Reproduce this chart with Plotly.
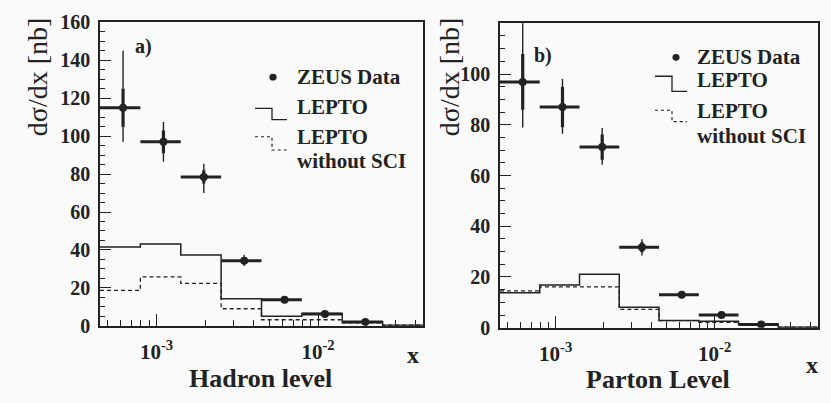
import plotly.graph_objects as go

W, H = 831, 403
INK = "#222222"
BG = "#fafafa"
SERIF = "Liberation Serif"

# x bins (equal steps in log x) and linear bin centres used for the data points
x_edges = [4.467e-4, 7.943e-4, 1.413e-3, 2.512e-3, 4.467e-3,
           7.943e-3, 1.413e-2, 2.512e-2, 4.467e-2]
x_centres = [6.205e-4, 1.104e-3, 1.962e-3, 3.490e-3, 6.205e-3, 1.104e-2, 1.962e-2]

# a) hadron level
zeus_a = [115.0, 97.0, 78.5, 34.3, 13.7, 6.2, 2.0]
stat_a = [10.0, 6.0, 3.5, 1.5, 1.0, 0.7, 0.4]
tot_a_up = [30.0, 10.5, 7.0, 3.2, 1.5, 1.0, 0.5]
tot_a_dn = [18.0, 10.5, 8.5, 2.8, 1.5, 1.0, 0.5]
lepto_a = [41.5, 43.2, 37.3, 14.3, 5.0, 6.5, 2.2, 0.3]
nosci_a = [18.7, 25.8, 22.4, 9.0, 3.2, 3.2, 1.5, 0.3]

# b) parton level
zeus_b = [96.9, 87.0, 71.2, 31.7, 13.0, 5.0, 1.3]
stat_b = [11.0, 8.0, 5.0, 2.0, 1.0, 0.6, 0.3]
tot_b_up = [28.0, 11.0, 7.5, 3.2, 1.5, 1.0, 0.5]
tot_b_dn = [18.0, 10.5, 7.0, 3.2, 1.5, 1.0, 0.5]
lepto_b = [13.8, 16.8, 21.1, 8.1, 2.8, 2.5, 1.5, 0.2]
nosci_b = [14.5, 16.1, 16.1, 7.2, 2.8, 2.1, 1.2, 0.2]

x_major = [1e-3, 1e-2]
x_major_text = ["10<sup>-3</sup>", "10<sup>-2</sup>"]
x_minor = [5e-4, 6e-4, 7e-4, 8e-4, 9e-4,
           2e-3, 3e-3, 4e-3, 5e-3, 6e-3, 7e-3, 8e-3, 9e-3,
           2e-2, 3e-2, 4e-2]


def px(x):
    return x / W


def py(y):
    return 1 - y / H


fig = go.Figure()


def add_panel(xa, ya, zeus, stat, tot_up, tot_dn, lepto, nosci):
    step_x = x_edges
    fig.add_trace(go.Scatter(x=step_x, y=lepto + [lepto[-1]], mode="lines",
                             line=dict(color=INK, width=1.5, shape="hv"),
                             xaxis=xa, yaxis=ya, showlegend=False))
    fig.add_trace(go.Scatter(x=step_x, y=nosci + [nosci[-1]], mode="lines",
                             line=dict(color=INK, width=1.3, shape="hv", dash="4px,3px"),
                             xaxis=xa, yaxis=ya, showlegend=False))
    lo = [c - e for c, e in zip(x_centres, x_edges[:-1])]
    hi = [e - c for c, e in zip(x_centres, x_edges[1:])]
    # total uncertainty: thin bars
    fig.add_trace(go.Scatter(x=x_centres, y=zeus, mode="markers",
                             marker=dict(size=1, color=INK),
                             error_y=dict(type="data", symmetric=False, array=tot_up,
                                          arrayminus=tot_dn, width=0, thickness=1.4, color=INK),
                             xaxis=xa, yaxis=ya, showlegend=False))
    # statistical uncertainty and bin width: thick bars
    fig.add_trace(go.Scatter(x=x_centres, y=zeus, mode="markers",
                             marker=dict(size=8, color=INK),
                             error_y=dict(type="data", array=stat, width=0, thickness=3.2, color=INK),
                             error_x=dict(type="data", symmetric=False, array=hi, arrayminus=lo,
                                          width=0, thickness=3, color=INK),
                             xaxis=xa, yaxis=ya, showlegend=False))


add_panel("x", "y", zeus_a, stat_a, tot_a_up, tot_a_dn, lepto_a, nosci_a)
add_panel("x2", "y2", zeus_b, stat_b, tot_b_up, tot_b_dn, lepto_b, nosci_b)

tickfont = dict(family=SERIF, size=20, color=INK, weight="bold")
xtickfont = dict(family=SERIF, size=21, color=INK, weight="bold")
xcommon = dict(type="log", range=[-3.35, -1.35], tickmode="array",
               tickvals=x_major, ticktext=x_major_text, ticks="inside", ticklen=12,
               tickwidth=1.3, tickcolor=INK, showline=True, linecolor=INK, linewidth=1.5,
               mirror=True, showgrid=False, zeroline=False, tickfont=xtickfont,
               ticklabelstandoff=6,
               minor=dict(tickmode="array", tickvals=x_minor, ticks="inside",
                          ticklen=6, tickwidth=1.1, tickcolor=INK, showgrid=False))
ycommon = dict(ticks="inside", ticklen=11, tickwidth=1.3, tickcolor=INK,
               showline=True, linecolor=INK, linewidth=1.5, mirror=True,
               showgrid=False, zeroline=False, tickfont=tickfont, ticklabelstandoff=4,
               minor=dict(dtick=5, ticks="inside", ticklen=5, tickwidth=1.1,
                          tickcolor=INK, showgrid=False))

fig.update_layout(
    width=W, height=H,
    margin=dict(l=0, r=0, t=0, b=0),
    paper_bgcolor=BG, plot_bgcolor=BG,
    xaxis=dict(domain=[px(100), px(423)], anchor="y", **xcommon),
    yaxis=dict(domain=[py(333), py(12)], anchor="x", range=[0, 160],
               tickvals=[0, 20, 40, 60, 80, 100, 120, 140, 160], **ycommon),
    xaxis2=dict(domain=[px(500), px(818)], anchor="y2", **xcommon),
    yaxis2=dict(domain=[py(335), py(13)], anchor="x2", range=[0, 120],
                tickvals=[0, 20, 40, 60, 80, 100], **ycommon),
)


def label(text, x, y, size, bold=True, xanchor="center", angle=0):
    fig.add_annotation(text=text, x=px(x), y=py(y), xref="paper", yref="paper",
                       showarrow=False, xanchor=xanchor, yanchor="middle", textangle=angle,
                       font=dict(family=SERIF, size=size, color=INK,
                                 weight="bold" if bold else "normal"))


def path(points):
    s = "M {} {}".format(px(points[0][0]), py(points[0][1]))
    for xp, yp in points[1:]:
        s += " L {} {}".format(px(xp), py(yp))
    return s


def legend(dot_x, dot_y, text_x, rows, solid_pts, dashed_pts):
    r = 3.6
    fig.add_shape(type="circle", xref="paper", yref="paper",
                  x0=px(dot_x - r), x1=px(dot_x + r), y0=py(dot_y + r), y1=py(dot_y - r),
                  fillcolor=INK, line=dict(color=INK, width=0))
    fig.add_shape(type="path", xref="paper", yref="paper", path=path(solid_pts),
                  line=dict(color=INK, width=1.3))
    fig.add_shape(type="path", xref="paper", yref="paper", path=path(dashed_pts),
                  line=dict(color=INK, width=1.2, dash="3px,3px"))
    for text, yy in rows:
        label(text, text_x, yy, 21, xanchor="left")


# panel a annotations
label("a)", 143, 38, 20)
label("dσ/dx [nb]", 37, 70, 28, bold=False, angle=-90)
label("Hadron level", 260, 389, 26)
label("x", 413, 364, 24)
legend(273, 70, 295,
       [("ZEUS Data", 70), ("LEPTO", 102), ("LEPTO", 133), ("without SCI", 159)],
       [(255, 103), (272, 103), (272, 115), (287, 115)],
       [(255, 133), (272, 133), (272, 147), (287, 147)])

# panel b annotations
label("b)", 543, 47, 20)
label("dσ/dx [nb]", 449, 70, 28, bold=False, angle=-90)
label("Parton Level", 658, 390, 26)
label("x", 812, 374, 24)
legend(676, 49, 695,
       [("ZEUS Data", 49), ("LEPTO", 73), ("LEPTO", 106), ("without SCI", 132)],
       [(655, 69), (672, 69), (672, 85), (687, 85)],
       [(655, 105), (672, 105), (672, 117), (687, 117)])

fig.write_html("out.html")
